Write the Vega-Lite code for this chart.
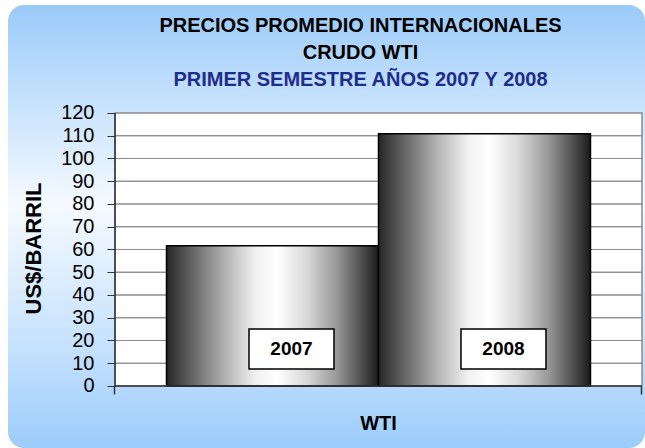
{
  "$schema": "https://vega.github.io/schema/vega-lite/v6.json",
  "width": 637,
  "height": 443,
  "autosize": {"type": "none"},
  "padding": {"left": 8, "top": 5, "right": 0, "bottom": 0},
  "background": "white",
  "title": {
    "text": ["PRECIOS PROMEDIO INTERNACIONALES", "CRUDO WTI"],
    "subtitle": "PRIMER SEMESTRE AÑOS 2007 Y 2008",
    "anchor": "middle",
    "frame": "group",
    "offset": -85,
    "dx": 34,
    "font": "Liberation Sans",
    "fontSize": 20,
    "fontWeight": "bold",
    "color": "black",
    "lineHeight": 27,
    "subtitleFont": "Liberation Sans",
    "subtitleFontSize": 20,
    "subtitleFontWeight": "bold",
    "subtitleColor": "#1F2D8A",
    "subtitlePadding": 7
  },
  "config": {
    "font": "Liberation Sans",
    "axis": {"labelOverlap": false},
    "view": {
      "stroke": null,
      "cornerRadius": 16,
      "fill": {
        "gradient": "linear",
        "x1": 0, "y1": 0, "x2": 0, "y2": 1,
        "stops": [
          {"offset": 0, "color": "#9ACAF9"},
          {"offset": 0.2, "color": "#C3E0FC"},
          {"offset": 0.45, "color": "#F5FAFF"},
          {"offset": 0.75, "color": "#C9E3FD"},
          {"offset": 1, "color": "#9CCCFB"}
        ]
      }
    }
  },
  "datasets": {
    "precios": [
      {"cat": "WTI", "year": "2007", "value": 61.6},
      {"cat": "WTI", "year": "2008", "value": 110.9}
    ],
    "grid": [
      {"cat": "WTI", "g": 10}, {"cat": "WTI", "g": 20}, {"cat": "WTI", "g": 30},
      {"cat": "WTI", "g": 40}, {"cat": "WTI", "g": 50}, {"cat": "WTI", "g": 60},
      {"cat": "WTI", "g": 70}, {"cat": "WTI", "g": 80}, {"cat": "WTI", "g": 90},
      {"cat": "WTI", "g": 100}, {"cat": "WTI", "g": 110}
    ],
    "panel": [{"cat": "WTI"}]
  },
  "encoding": {
    "x": {
      "field": "cat", "type": "nominal",
      "scale": {"paddingInner": 0, "paddingOuter": 0.10436, "align": 0.9727},
      "axis": {
        "orient": "bottom", "offset": -62, "zindex": 1, "domain": false, "grid": false,
        "ticks": true, "bandPosition": 1, "tickExtra": true, "tickSize": 8,
        "tickColor": "#333333", "tickWidth": 1.5, "labelFontSize": 20, "labelFontWeight": "bold",
        "labelColor": "black", "labelPadding": 19, "labelAngle": 0, "title": null
      }
    }
  },
  "layer": [
    {
      "data": {"name": "panel"},
      "mark": {"type": "bar", "fill": "white", "stroke": "#8a8a8a", "strokeWidth": 1.5},
      "encoding": {
        "y": {
          "datum": 0, "type": "quantitative",
          "scale": {"domain": [-27.253, 167.47], "nice": false, "zero": false},
          "axis": {
            "orient": "left", "values": [0, 10, 20, 30, 40, 50, 60, 70, 80, 90, 100, 110, 120],
            "offset": -107, "zindex": 1, "domain": false, "grid": false, "ticks": true, "tickSize": 8,
            "tickColor": "#333333", "labelFontSize": 20, "labelColor": "black", "labelPadding": 13,
            "labelOverlap": false, "labelFlush": false, "title": "US$/BARRIL", "titleFontSize": 22,
            "titleFontWeight": "bold", "titleColor": "black", "titleAngle": -90, "titleX": -75,
            "titleY": 243, "titleAlign": "center", "titleBaseline": "alphabetic"
          }
        },
        "y2": {"datum": 120}
      }
    },
    {
      "data": {"name": "grid"},
      "mark": {"type": "bar", "fillOpacity": 0, "stroke": "#8c8c8c", "strokeWidth": 1},
      "encoding": {
        "y": {
          "field": "g", "type": "quantitative",
          "scale": {"domain": [-27.253, 167.47], "nice": false, "zero": false},
          "axis": {
            "orient": "left", "values": [0, 10, 20, 30, 40, 50, 60, 70, 80, 90, 100, 110, 120],
            "offset": -107, "zindex": 1, "domain": false, "grid": false, "ticks": true, "tickSize": 8,
            "tickColor": "#333333", "labelFontSize": 20, "labelColor": "black", "labelPadding": 13,
            "labelOverlap": false, "labelFlush": false, "title": "US$/BARRIL", "titleFontSize": 22,
            "titleFontWeight": "bold", "titleColor": "black", "titleAngle": -90, "titleX": -75,
            "titleY": 243, "titleAlign": "center", "titleBaseline": "alphabetic"
          }
        },
        "y2": {"field": "g"}
      }
    },
    {
      "data": {"name": "precios"},
      "mark": {
        "type": "bar",
        "stroke": "black",
        "strokeWidth": 1.5,
        "fill": {
          "gradient": "linear",
          "x1": 0, "y1": 0, "x2": 1, "y2": 0,
          "stops": [
            {"offset": 0, "color": "#262626"},
            {"offset": 0.1, "color": "#5a5a5a"},
            {"offset": 0.28, "color": "#b4b4b4"},
            {"offset": 0.42, "color": "#f0f0f0"},
            {"offset": 0.52, "color": "#ffffff"},
            {"offset": 0.66, "color": "#d9d9d9"},
            {"offset": 0.8, "color": "#999999"},
            {"offset": 0.91, "color": "#555555"},
            {"offset": 1, "color": "#1a1a1a"}
          ]
        }
      },
      "encoding": {
        "xOffset": {"field": "year", "type": "nominal", "scale": {"paddingInner": 0, "paddingOuter": 0.243}},
        "y": {
          "field": "value", "type": "quantitative",
          "scale": {"domain": [-27.253, 167.47], "nice": false, "zero": false},
          "axis": {
            "orient": "left", "values": [0, 10, 20, 30, 40, 50, 60, 70, 80, 90, 100, 110, 120],
            "offset": -107, "zindex": 1, "domain": false, "grid": false, "ticks": true, "tickSize": 8,
            "tickColor": "#333333", "labelFontSize": 20, "labelColor": "black", "labelPadding": 13,
            "labelOverlap": false, "labelFlush": false, "title": "US$/BARRIL", "titleFontSize": 22,
            "titleFontWeight": "bold", "titleColor": "black", "titleAngle": -90, "titleX": -75,
            "titleY": 243, "titleAlign": "center", "titleBaseline": "alphabetic"
          }
        },
        "y2": {"datum": 0}
      }
    },
    {
      "data": {"name": "panel"},
      "mark": {"type": "bar", "fillOpacity": 0, "stroke": "#333333", "strokeWidth": 1.5},
      "encoding": {
        "y": {
          "datum": 0, "type": "quantitative",
          "scale": {"domain": [-27.253, 167.47], "nice": false, "zero": false},
          "axis": {
            "orient": "left", "values": [0, 10, 20, 30, 40, 50, 60, 70, 80, 90, 100, 110, 120],
            "offset": -107, "zindex": 1, "domain": false, "grid": false, "ticks": true, "tickSize": 8,
            "tickColor": "#333333", "labelFontSize": 20, "labelColor": "black", "labelPadding": 13,
            "labelOverlap": false, "labelFlush": false, "title": "US$/BARRIL", "titleFontSize": 22,
            "titleFontWeight": "bold", "titleColor": "black", "titleAngle": -90, "titleX": -75,
            "titleY": 243, "titleAlign": "center", "titleBaseline": "alphabetic"
          }
        },
        "y2": {"datum": 0}
      }
    },
    {
      "data": {"name": "panel"},
      "mark": {"type": "rule", "color": "#333333", "strokeWidth": 1.5},
      "encoding": {
        "x": {
          "field": "cat", "type": "nominal", "bandPosition": 0,
          "scale": {"paddingInner": 0, "paddingOuter": 0.10436, "align": 0.9727},
          "axis": {
            "orient": "bottom", "offset": -62, "zindex": 1, "domain": false, "grid": false,
            "ticks": true, "bandPosition": 1, "tickExtra": true, "tickSize": 8,
            "tickColor": "#333333", "tickWidth": 1.5, "labelFontSize": 20, "labelFontWeight": "bold",
            "labelColor": "black", "labelPadding": 19, "labelAngle": 0, "title": null
          }
        },
        "y": {
          "datum": 0, "type": "quantitative",
          "scale": {"domain": [-27.253, 167.47], "nice": false, "zero": false},
          "axis": {
            "orient": "left", "values": [0, 10, 20, 30, 40, 50, 60, 70, 80, 90, 100, 110, 120],
            "offset": -107, "zindex": 1, "domain": false, "grid": false, "ticks": true, "tickSize": 8,
            "tickColor": "#333333", "labelFontSize": 20, "labelColor": "black", "labelPadding": 13,
            "labelOverlap": false, "labelFlush": false, "title": "US$/BARRIL", "titleFontSize": 22,
            "titleFontWeight": "bold", "titleColor": "black", "titleAngle": -90, "titleX": -75,
            "titleY": 243, "titleAlign": "center", "titleBaseline": "alphabetic"
          }
        },
        "y2": {"datum": 120}
      }
    },
    {
      "data": {"name": "precios"},
      "mark": {
        "type": "point",
        "shape": "M-0.553,-0.47H1.447V0.47H-0.553Z",
        "size": 7225,
        "filled": true,
        "fill": "white",
        "stroke": "black",
        "strokeWidth": 1.5,
        "opacity": 1
      },
      "encoding": {
        "xOffset": {"field": "year", "type": "nominal", "scale": {"paddingInner": 0, "paddingOuter": 0.243}},
        "y": {
          "datum": 16.3, "type": "quantitative",
          "scale": {"domain": [-27.253, 167.47], "nice": false, "zero": false},
          "axis": {
            "orient": "left", "values": [0, 10, 20, 30, 40, 50, 60, 70, 80, 90, 100, 110, 120],
            "offset": -107, "zindex": 1, "domain": false, "grid": false, "ticks": true, "tickSize": 8,
            "tickColor": "#333333", "labelFontSize": 20, "labelColor": "black", "labelPadding": 13,
            "labelOverlap": false, "labelFlush": false, "title": "US$/BARRIL", "titleFontSize": 22,
            "titleFontWeight": "bold", "titleColor": "black", "titleAngle": -90, "titleX": -75,
            "titleY": 243, "titleAlign": "center", "titleBaseline": "alphabetic"
          }
        }
      }
    },
    {
      "data": {"name": "precios"},
      "mark": {
        "type": "text",
        "dx": 19,
        "fontSize": 19,
        "fontWeight": "bold",
        "color": "black",
        "align": "center",
        "baseline": "middle"
      },
      "encoding": {
        "xOffset": {"field": "year", "type": "nominal", "scale": {"paddingInner": 0, "paddingOuter": 0.243}},
        "y": {
          "datum": 16.3, "type": "quantitative",
          "scale": {"domain": [-27.253, 167.47], "nice": false, "zero": false},
          "axis": {
            "orient": "left", "values": [0, 10, 20, 30, 40, 50, 60, 70, 80, 90, 100, 110, 120],
            "offset": -107, "zindex": 1, "domain": false, "grid": false, "ticks": true, "tickSize": 8,
            "tickColor": "#333333", "labelFontSize": 20, "labelColor": "black", "labelPadding": 13,
            "labelOverlap": false, "labelFlush": false, "title": "US$/BARRIL", "titleFontSize": 22,
            "titleFontWeight": "bold", "titleColor": "black", "titleAngle": -90, "titleX": -75,
            "titleY": 243, "titleAlign": "center", "titleBaseline": "alphabetic"
          }
        },
        "text": {"field": "year", "type": "nominal"}
      }
    }
  ]
}
